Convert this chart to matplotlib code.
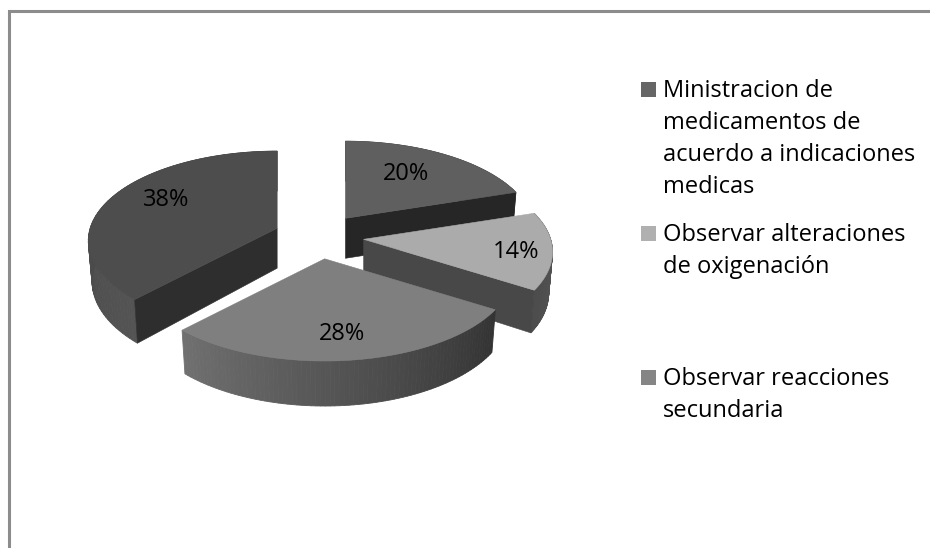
import numpy as np
import matplotlib
matplotlib.use("Agg")
import matplotlib.pyplot as plt
from matplotlib.patches import Polygon, Rectangle

# porcentajes de cada rebanada, en sentido horario desde las 12
values = [20, 14, 28, 38]
labels = ["20%", "14%", "28%", "38%"]
top_colors = ["#5f5f5f", "#ababab", "#7f7f7f", "#4d4d4d"]
side_colors = ["#262626", "#484848", "#333333", "#2e2e2e"]
rim_start = [0.25, 0.36, 0.20, 0.33]
rim_end = [0.25, 0.30, 0.44, 0.22]
legend_lines = [
    ["Ministracion de", "medicamentos de", "acuerdo a indicaciones", "medicas"],
    ["Observar alteraciones", "de oxigenación"],
    ["Observar reacciones", "secundaria"],
]
legend_colors = ["#666666", "#b0b0b0", "#858585"]

# geometria de la proyeccion, en pixeles
cx, cy = 319, 236.5
radius = 187
persp = 0.14
squash = 0.47
explode = 45
explode_squash = 0.5
depth = 40
label_pos = [(406, 180), (516, 258), (342, 340), (166, 206)]
legend_x = 641
legend_base = [97, 241, 385]
line_gap = 32


def project(ax0, ay0, theta):
    # punto del borde de la rebanada visto en perspectiva
    s = np.sin(theta)
    c = np.cos(theta)
    scale = radius / (1 + persp * c)
    return ax0 + scale * s, ay0 - squash * scale * c


def drop(theta):
    # el grosor crece un poco hacia el frente
    return depth - 5 * np.cos(theta) * (np.cos(theta) < 0)


plt.rcParams["font.family"] = ["Open Sans", "DejaVu Sans"]

fig = plt.figure(figsize=(9.3, 5.48), dpi=100)
ax = fig.add_axes([0, 0, 1, 1])
ax.set_xlim(0, 930)
ax.set_ylim(548, 0)
ax.axis("off")

# marco del grafico
ax.plot([8.5, 8.5, 930], [548, 10.5, 10.5], color="#8c8c8c", lw=2.2, solid_joinstyle="miter")

edges = np.radians(np.cumsum([0] + values) * 3.6)
draw_order = [0, 3, 1, 2]

for z, i in enumerate(draw_order):
    t0, t1 = edges[i], edges[i + 1]
    mid = (t0 + t1) / 2
    ax0 = cx + explode * np.sin(mid)
    ay0 = cy - explode * explode_squash * np.cos(mid)
    thetas = np.linspace(t0, t1, 80)
    px, py = project(ax0, ay0, thetas)
    # la base se estrecha ligeramente
    bx = ax0 + 0.98 * (px - ax0)
    by = py + drop(thetas)

    # pared curva exterior, por tiras para el degradado
    greys = np.linspace(rim_start[i], rim_end[i], len(thetas) - 1)
    for k in range(len(thetas) - 1):
        quad = [(px[k], py[k]), (px[k + 1], py[k + 1]), (bx[k + 1], by[k + 1]), (bx[k], by[k])]
        g = str(greys[k])
        ax.add_patch(Polygon(quad, closed=True, facecolor=g, edgecolor=g, lw=0.6, zorder=2 + z))

    # solo las caras radiales que miran hacia el frente
    visible = []
    if np.sin(t0) < -1e-6:
        visible.append(t0)
    if np.sin(t1) > 1e-6:
        visible.append(t1)
    for t in visible:
        ex, ey = project(ax0, ay0, t)
        face = [(ax0, ay0), (ex, ey), (ax0 + 0.98 * (ex - ax0), ey + drop(t)), (ax0, ay0 + depth)]
        ax.add_patch(Polygon(face, closed=True, facecolor=side_colors[i], edgecolor=side_colors[i],
                             lw=0.4, zorder=2 + z))

    # cara superior
    top = [(ax0, ay0)] + list(zip(px, py))
    ax.add_patch(Polygon(top, closed=True, facecolor=top_colors[i], edgecolor=top_colors[i],
                         lw=0.4, zorder=2 + z))

for i in range(len(values)):
    ax.text(label_pos[i][0], label_pos[i][1], labels[i], fontsize=17, color="black",
            ha="center", va="baseline", zorder=20)

# leyenda
for n, lines in enumerate(legend_lines):
    y0 = legend_base[n]
    ax.add_patch(Rectangle((legend_x, y0 - 15), 15, 15, facecolor=legend_colors[n], edgecolor="none"))
    for j, line in enumerate(lines):
        ax.text(legend_x + 22, y0 + j * line_gap, line, fontsize=17, color="black",
                ha="left", va="baseline")

fig.savefig("out.png", dpi=100)
